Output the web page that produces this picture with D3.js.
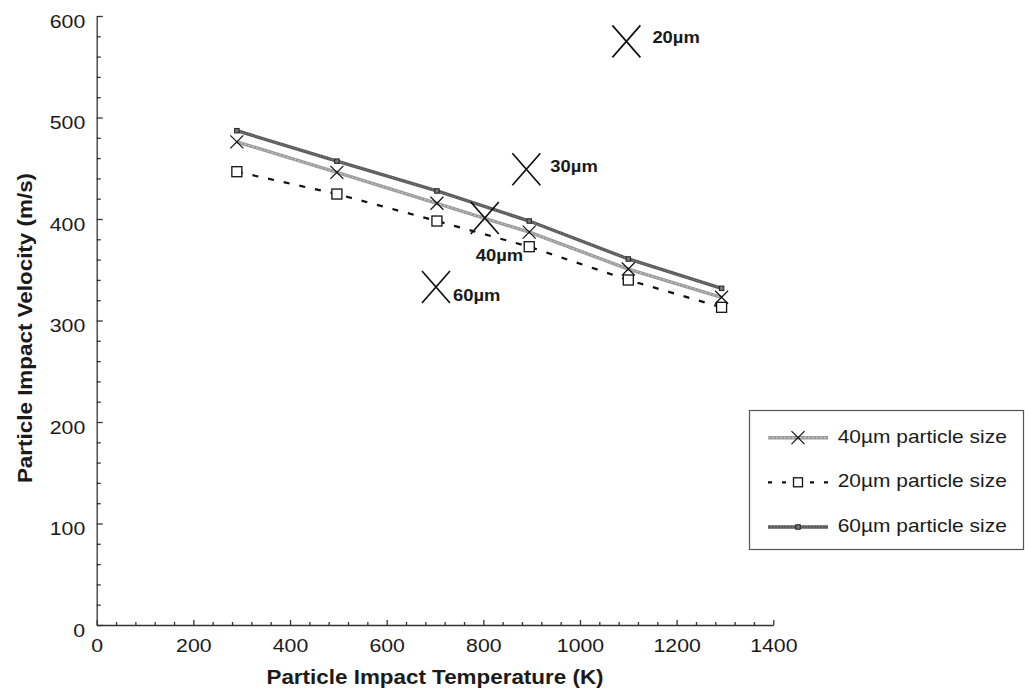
<!DOCTYPE html>
<html>
<head>
<meta charset="utf-8">
<script src="https://cdn.jsdelivr.net/npm/d3@7"></script>
<style>
  html, body { margin: 0; padding: 0; background: #fff; }
  svg { display: block; }
  text { font-family: "Liberation Sans", Arial, Helvetica, sans-serif; fill: #1a1a1a; }
</style>
</head>
<body>
<svg id="chart" width="1025" height="696"></svg>
<script>
// ---- data ----
const temps = [290, 497, 704, 895, 1100, 1293];
const vel40 = [476, 446, 415.5, 387, 350.7, 322.9];
const vel20 = [446.6, 424.6, 398, 372.7, 339.9, 313];
const vel60 = [487, 457, 427.6, 398, 360.6, 331.7];

const seriesNames = ["40µm particle size", "20µm particle size", "60µm particle size"];

const annotLabels = ["20µm", "30µm", "40µm", "60µm"];
const annotTemps = [1096, 889, 803, 702];
const annotVels = [575, 449, 401, 333];

const xMajorTicks = [0, 200, 400, 600, 800, 1000, 1200, 1400];
const yMajorTicks = [0, 100, 200, 300, 400, 500, 600];

const xTitle = "Particle Impact Temperature (K)";
const yTitle = "Particle Impact Velocity (m/s)";

// ---- layout ----
const SX = 1.15; // horizontal glyph stretch of the reference
const svg = d3.select("#chart");
const x = d3.scaleLinear().domain([0, 1400]).range([96.7, 773.3]);
const y = d3.scaleLinear().domain([0, 600]).range([625, 16]);

const xMinor = d3.range(0, 1401, 40).filter(v => v % 200 !== 0);
const yMinor = d3.range(0, 601, 20).filter(v => v % 100 !== 0);

// axes
const axisColor = "#333";
const gx = svg.append("g").attr("transform", `translate(0,${y(0)})`);
gx.call(d3.axisBottom(x).tickValues(xMinor).tickSizeInner(-3).tickSizeOuter(0).tickFormat(""));
gx.call(g => g.selectAll(".domain").remove());
const gx2 = svg.append("g").attr("transform", `translate(0,${y(0)})`);
gx2.call(d3.axisBottom(x).tickValues(xMajorTicks).tickSizeInner(-5).tickSizeOuter(0).tickPadding(14).tickFormat(d3.format("d")));
const gy = svg.append("g").attr("transform", `translate(${x(0)},0)`);
gy.call(d3.axisLeft(y).tickValues(yMinor).tickSizeInner(-4).tickSizeOuter(0).tickFormat(""));
gy.call(g => g.selectAll(".domain").remove());
const gy2 = svg.append("g").attr("transform", `translate(${x(0)},0)`);
gy2.call(d3.axisLeft(y).tickValues(yMajorTicks).tickSizeInner(-6).tickSizeOuter(0).tickPadding(10).tickFormat(d3.format("d")));

svg.selectAll(".domain, .tick line").attr("stroke", axisColor).attr("stroke-width", 1.3);
svg.selectAll(".tick text")
  .attr("font-family", "'Liberation Sans', Arial, sans-serif")
  .attr("font-size", 18.5)
  .attr("fill", "#1a1a1a")
  .attr("transform", `scale(${SX},1)`);
gy2.selectAll(".tick text").attr("dy", "0.6em");

// titles
function stretchedText(parent, tx, ty, str, opts) {
  const t = parent.append("text")
    .attr("transform", `translate(${tx},${ty}) ${opts.rotate ? "rotate(" + opts.rotate + ")" : ""} scale(${SX},1)`)
    .attr("font-size", opts.size)
    .attr("font-weight", opts.weight || "normal")
    .attr("text-anchor", opts.anchor || "start")
    .text(str);
  return t;
}
stretchedText(svg, (x(0) + x(1400)) / 2, 684, xTitle, {size: 19.5, weight: "bold", anchor: "middle"});
stretchedText(svg, 32, 328, yTitle, {size: 19.5, weight: "bold", anchor: "middle", rotate: -90});

// ---- series ----
const pts = vals => temps.map((t, i) => [x(t), y(vals[i])]);
const line = d3.line();

// 20µm dashed
svg.append("path").attr("d", line(pts(vel20)))
  .attr("fill", "none").attr("stroke", "#111").attr("stroke-width", 2.2)
  .attr("stroke-dasharray", "6,10");
// 40µm light grey textured
svg.append("path").attr("d", line(pts(vel40)))
  .attr("fill", "none").attr("stroke", "#9a9a9a").attr("stroke-width", 3.4);
svg.append("path").attr("d", line(pts(vel40)))
  .attr("fill", "none").attr("stroke", "#c4c4c4").attr("stroke-width", 1.2).attr("stroke-dasharray", "2,2");
// 60µm dark grey textured
svg.append("path").attr("d", line(pts(vel60)))
  .attr("fill", "none").attr("stroke", "#5a5a5a").attr("stroke-width", 3.4);
svg.append("path").attr("d", line(pts(vel60)))
  .attr("fill", "none").attr("stroke", "#8a8a8a").attr("stroke-width", 1.2).attr("stroke-dasharray", "1,2");

function drawX(g, cx, cy, w, h, sw) {
  g.append("path")
    .attr("d", `M${cx - w / 2},${cy - h / 2}L${cx + w / 2},${cy + h / 2}M${cx - w / 2},${cy + h / 2}L${cx + w / 2},${cy - h / 2}`)
    .attr("stroke", "#111").attr("stroke-width", sw).attr("fill", "none");
}
function drawOpenSquare(g, cx, cy, s) {
  g.append("rect").attr("x", cx - s / 2).attr("y", cy - s / 2).attr("width", s).attr("height", s)
    .attr("fill", "#fff").attr("stroke", "#111").attr("stroke-width", 1.3);
}
function drawSmallSquare(g, cx, cy, s) {
  g.append("rect").attr("x", cx - s / 2).attr("y", cy - s / 2).attr("width", s).attr("height", s)
    .attr("fill", "#777").attr("stroke", "#222").attr("stroke-width", 1);
}

const mk = svg.append("g");
pts(vel20).forEach(p => drawOpenSquare(mk, p[0], p[1], 10));
pts(vel40).forEach(p => drawX(mk, p[0], p[1], 13, 13, 1.2));
pts(vel60).forEach(p => drawSmallSquare(mk, p[0], p[1], 4.5));

// ---- annotations ----
const annotOffsets = [[26, 2], [24, 2.5], [-9, 43], [17, 14]];
annotLabels.forEach((lab, i) => {
  const cx = x(annotTemps[i]), cy = y(annotVels[i]);
  drawX(svg, cx, cy, 28, 32, 1.7);
  stretchedText(svg, cx + annotOffsets[i][0], cy + annotOffsets[i][1], lab, {size: 16, weight: "bold"});
});

// ---- legend ----
const lg = svg.append("g");
lg.append("rect").attr("x", 749.5).attr("y", 410.5).attr("width", 274).attr("height", 139)
  .attr("fill", "#fff").attr("stroke", "#555").attr("stroke-width", 1.2);
const rowY = [437.7, 482.3, 527];
const lx0 = 768, lx1 = 828, lmid = 798;
// row 1: 40µm
lg.append("line").attr("x1", lx0).attr("x2", lx1).attr("y1", rowY[0]).attr("y2", rowY[0])
  .attr("stroke", "#9a9a9a").attr("stroke-width", 3.4);
lg.append("line").attr("x1", lx0).attr("x2", lx1).attr("y1", rowY[0]).attr("y2", rowY[0])
  .attr("stroke", "#c4c4c4").attr("stroke-width", 1.2).attr("stroke-dasharray", "2,2");
drawX(lg, lmid, rowY[0], 13, 13, 1.2);
// row 2: 20µm
lg.append("line").attr("x1", lx0).attr("x2", lx1).attr("y1", rowY[1]).attr("y2", rowY[1])
  .attr("stroke", "#111").attr("stroke-width", 2.2).attr("stroke-dasharray", "4,10");
drawOpenSquare(lg, lmid, rowY[1], 9);
// row 3: 60µm
lg.append("line").attr("x1", lx0).attr("x2", lx1).attr("y1", rowY[2]).attr("y2", rowY[2])
  .attr("stroke", "#5a5a5a").attr("stroke-width", 3.4);
lg.append("line").attr("x1", lx0).attr("x2", lx1).attr("y1", rowY[2]).attr("y2", rowY[2])
  .attr("stroke", "#8a8a8a").attr("stroke-width", 1.2).attr("stroke-dasharray", "1,2");
drawSmallSquare(lg, lmid, rowY[2], 4.5);

seriesNames.forEach((n, i) => {
  stretchedText(lg, 837.7, rowY[i] + 5, n, {size: 18.2});
});
</script>
</body>
</html>
